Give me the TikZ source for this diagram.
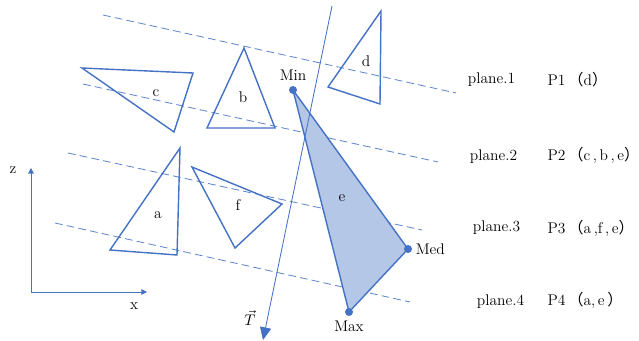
\documentclass[tikz,border=0pt]{standalone}
\usepackage{fontspec}
\newfontfamily\cjk{Noto Sans CJK SC}
\usepackage{tikz}
\usetikzlibrary{arrows.meta}
\definecolor{tblue}{RGB}{68,114,196}
\definecolor{tfill}{RGB}{180,199,231}
\newcommand{\lpar}{{\cjk （}}
\newcommand{\rpar}{\makebox[0.4em][l]{\cjk ）}}

\begin{document}
\begin{tikzpicture}[x=0.25mm, y=-0.25mm, >={Triangle[length=4pt, width=4pt]},
    font=\fontsize{11}{13}\selectfont,
    tri/.style={draw=tblue, line width=1pt, line join=miter},
    plane/.style={tblue!85, line width=0.6pt, dash pattern=on 5.5pt off 3pt}]
    \useasboundingbox (0,0) rectangle (639,340);

    % cutting planes
    \draw[plane] (103,15) -- (456,93);
    \draw[plane] (83,84) -- (438,162);
    \draw[plane] (68,153) -- (422,230);
    \draw[plane] (55,223) -- (410,302);

    % triangles
    \draw[tri] (82,68) -- (193,73) -- (174,132) -- cycle;
    \node at (156,93) {c};
    \draw[tri] (244,48) -- (207,128) -- (275,128) -- cycle;
    \node at (243,97) {b};
    \draw[tri] (381,11) -- (328,87) -- (380,104) -- cycle;
    \node at (366,61) {d};
    \draw[tri] (180,148) -- (110,250) -- (177,255) -- cycle;
    \node at (158,215) {a};
    \draw[tri] (192,167) -- (282,204) -- (235,248) -- cycle;
    \node at (238,205) {f};

    % the shaded one
    \coordinate (min) at (293,90);
    \coordinate (med) at (408,249);
    \coordinate (max) at (349,312);
    \draw[tri, fill=tfill] (min) -- (med) -- (max) -- cycle;
    \node at (342,198) {e};
    \fill[tblue] (min) circle (1mm) node[above=3pt, text=black] {Min};
    \fill[tblue] (med) circle (1mm) node[right=2pt, text=black] {Med};
    \fill[tblue] (max) circle (1mm) node[below=3pt, text=black] {Max};

    % direction T
    \coordinate (ttop) at (332,6);
    \coordinate (tbot) at (263,340);
    \draw[->, >={Triangle[length=9pt, width=8pt]}, tblue, line width=0.6pt] (ttop) -- (tbot);
    \node at (250,318) {$\vec{T}$};

    % axes
    \coordinate (o) at (31,292);
    \draw[->, tblue, line width=0.6pt] (o) -- (31,168);
    \draw[->, tblue, line width=0.6pt] (o) -- (147,292);
    \node at (13,170) {z};
    \node at (134,306) {x};

    % plane list
    \node[anchor=west] at (463,80) {plane.1};
    \node[anchor=west] at (465,157) {plane.2};
    \node[anchor=west] at (468,228) {plane.3};
    \node[anchor=west] at (472,302) {plane.4};
    \node[anchor=west, inner sep=1pt] at (546,80) {P1\,\lpar d\rpar};
    \node[anchor=west, inner sep=1pt] at (546,155) {P2\,\lpar c\,,\,b\,,\,e\rpar};
    \node[anchor=west, inner sep=1pt] at (546,228) {P3\,\lpar a\,,f\,,\,e\rpar};
    \node[anchor=west, inner sep=1pt] at (546,300) {P4\,\lpar a,\,e\,\rpar};
\end{tikzpicture}
\end{document}
